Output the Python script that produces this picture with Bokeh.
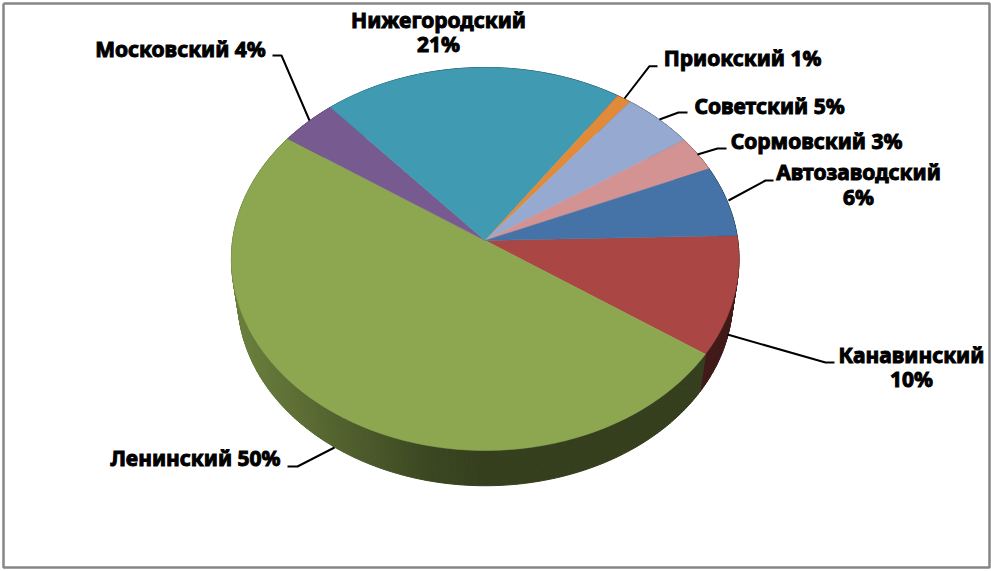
import math
import numpy as np
from bokeh.plotting import figure
from bokeh.models import Range1d
from bokeh.core.properties import value
from bokeh.embed import file_html
from bokeh.resources import INLINE

districts = ["Канавинский", "Ленинский", "Московский", "Нижегородский", "Приокский", "Советский", "Сормовский", "Автозаводский"]
shares = [10, 50, 4, 21, 1, 5, 3, 6]
colors = ["#aa4643", "#8ca750", "#775a90", "#3f9ab2", "#e08a3a", "#96a9d0", "#d29392", "#4572a7"]

W, H = 991, 571
CX, CY, RX, RY, K = 484.7, 240.0, 252.6, 189.7, 0.0966
START = 1.5
SCALE, DEPTH = 0.975, 40.5


def top(theta):
    t = np.radians(theta)
    u, v = np.cos(t), np.sin(t)
    w = 1 + K * v
    return CX + RX * u / w, CY - RY * v / w


def low(theta):
    x, y = top(theta)
    return CX + (x - CX) * SCALE, CY + DEPTH + (y - CY) * SCALE


def shade(hex_color, f):
    r, g, b = (int(hex_color[i:i + 2], 16) for i in (1, 3, 5))
    return "#%02x%02x%02x" % (int(r * f), int(g * f), int(b * f))


p = figure(width=W, height=H, x_range=Range1d(0, W), y_range=Range1d(H, 0),
           output_backend="svg", toolbar_location=None, min_border=0,
           outline_line_color=None)
p.axis.visible = False
p.grid.visible = False
p.background_fill_color = "white"

# chart border
p.line([3, 989, 989, 3, 3], [3, 3, 567, 567, 3], line_color="#868686", line_width=2.5)

# slice spans, clockwise from the start angle
edges = [START]
for s in shares:
    edges.append(edges[-1] - s * 3.6)

# walls
wx, wy, wc = [], [], []
for i, c in enumerate(colors):
    a0, a1 = edges[i], edges[i + 1]
    n = max(2, int(abs(a0 - a1) / 0.8))
    th = np.linspace(a0, a1, n + 1)
    for j in range(n):
        xa, ya = top(th[j]); xb, yb = top(th[j + 1])
        xc, yc = low(th[j + 1]); xd, yd = low(th[j])
        wx.append([xa, xb, xc, xd]); wy.append([ya, yb, yc, yd])
        f = float(np.interp((xa + xb) / 2, [238, 330, 430, 480], [0.76, 0.6, 0.42, 0.38]))
        wc.append(shade(c, f))
p.patches(wx, wy, fill_color=wc, line_color=wc, line_width=1)

# top faces
for i, c in enumerate(colors):
    th = np.linspace(edges[i], edges[i + 1], 80)
    x, y = top(th)
    p.patch(np.r_[CX, x], np.r_[CY, y], fill_color=c, line_color=c, line_width=0.5)

# leaders
leaders = [
    ([727, 825, 834], [334, 362, 362]),
    ([334, 297, 287], [447, 466, 466]),
    ([309, 281, 272], [120, 55, 55]),
    ([624, 649, 657], [98, 65.7, 65.7]),
    ([659, 678, 687], [119, 112, 112]),
    ([697, 717, 726], [154, 148, 148]),
    ([728, 765, 773], [200, 180, 180]),
]
p.multi_line([l[0] for l in leaders], [l[1] for l in leaders], line_color="black", line_width=2)

# labels
label_xy = {
    "Канавинский": [(911, 354, "Канавинский"), (911, 378, "10%")],
    "Ленинский": [(195, 457, "Ленинский 50%")],
    "Московский": [(180, 48, "Московский 4%")],
    "Нижегородский": [(438, 19, "Нижегородский"), (438, 43, "21%")],
    "Приокский": [(742, 57, "Приокский 1%")],
    "Советский": [(769, 105, "Советский 5%")],
    "Сормовский": [(816, 140, "Сормовский 3%")],
    "Автозаводский": [(858, 171, "Автозаводский"), (858, 196, "6%")],
}
tx, ty, tt = [], [], []
for d in districts:
    for a, b, s in label_xy[d]:
        tx.append(a); ty.append(b); tt.append(s)
p.text(tx, ty, text=tt, text_font=value("Noto Sans"), text_font_size="21px", text_font_style="bold",
       text_color="black", text_outline_color="black", text_align="center", text_baseline="middle")

open("out.html", "w").write(file_html(p, INLINE))
